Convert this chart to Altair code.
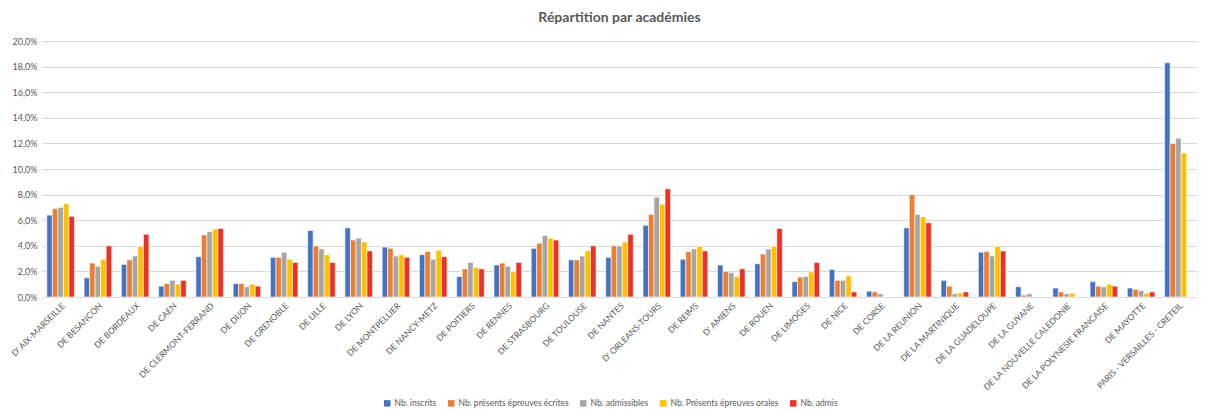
import altair as alt
import pandas as pd

categories = ["D' AIX-MARSEILLE", "DE BESANCON", "DE BORDEAUX", "DE CAEN", "DE CLERMONT-FERRAND",
              "DE DIJON", "DE GRENOBLE", "DE LILLE", "DE LYON", "DE MONTPELLIER", "DE NANCY-METZ",
              "DE POITIERS", "DE RENNES", "DE STRASBOURG", "DE TOULOUSE", "DE NANTES",
              "D' ORLEANS-TOURS", "DE REIMS", "D' AMIENS", "DE ROUEN", "DE LIMOGES", "DE NICE",
              "DE CORSE", "DE LA REUNION", "DE LA MARTINIQUE", "DE LA GUADELOUPE", "DE LA GUYANE",
              "DE LA NOUVELLE CALEDONIE", "DE LA POLYNESIE FRANCAISE", "DE MAYOTTE",
              "PARIS - VERSAILLES - CRETEIL"]

series_names = ["Nb. inscrits", "Nb. présents épreuves écrites", "Nb. admissibles",
                "Nb. Présents épreuves orales", "Nb. admis"]
series_colors = ["#4472C4", "#ED7D31", "#A5A5A5", "#FFC000", "#EE3124"]

# values in percent
inscrits = [6.4, 1.5, 2.55, 0.85, 3.15, 1.05, 3.1, 5.2, 5.4, 3.9, 3.3, 1.6, 2.5, 3.8, 2.9, 3.1,
            5.6, 2.95, 2.5, 2.6, 1.2, 2.15, 0.45, 5.4, 1.3, 3.5, 0.8, 0.7, 1.2, 0.7, 18.3]
ecrites = [6.9, 2.65, 2.9, 1.05, 4.85, 1.05, 3.1, 4.0, 4.45, 3.8, 3.55, 2.2, 2.65, 4.2, 2.9, 4.0,
           6.45, 3.55, 2.0, 3.35, 1.55, 1.3, 0.4, 8.0, 0.85, 3.55, 0.15, 0.4, 0.85, 0.6, 12.0]
admissibles = [7.0, 2.4, 3.2, 1.3, 5.1, 0.8, 3.5, 3.75, 4.6, 3.2, 2.95, 2.7, 2.4, 4.8, 3.2, 4.0,
               7.8, 3.75, 1.9, 3.75, 1.6, 1.3, 0.25, 6.45, 0.25, 3.2, 0.25, 0.25, 0.8, 0.5, 12.4]
orales = [7.3, 2.95, 3.95, 1.0, 5.3, 1.0, 2.95, 3.3, 4.3, 3.3, 3.65, 2.3, 1.95, 4.6, 3.6, 4.3,
          7.25, 3.95, 1.6, 3.95, 1.95, 1.65, None, 6.25, 0.3, 3.95, None, 0.3, 1.0, 0.3, 11.25]
admis = [6.3, 4.0, 4.9, 1.3, 5.35, 0.85, 2.7, 2.7, 3.6, 3.1, 3.15, 2.2, 2.7, 4.45, 4.0, 4.9,
         8.45, 3.6, 2.2, 5.35, 2.7, 0.4, None, 5.8, 0.4, 3.6, None, None, 0.85, 0.4, None]

series_values = [inscrits, ecrites, admissibles, orales, admis]

rows = []
for name, vals in zip(series_names, series_values):
    for cat, v in zip(categories, vals):
        if v is not None:
            rows.append({"academie": cat, "serie": name, "valeur": v / 100.0})
df = pd.DataFrame(rows)

grey = "#595959"
font = "Lato"

chart = alt.Chart(df).mark_bar(stroke="white", strokeWidth=0.6).encode(
    x=alt.X("academie:N", sort=categories, title=None,
            scale=alt.Scale(paddingInner=0.26, paddingOuter=0.13),
            axis=alt.Axis(labelAngle=-45, labelFontSize=8.5, labelColor=grey, labelFont=font,
                          ticks=False, domainColor="#D9D9D9", labelPadding=4, labelLimit=200)),
    xOffset=alt.XOffset("serie:N", sort=series_names, scale=alt.Scale(paddingInner=0, paddingOuter=0)),
    y=alt.Y("valeur:Q", title=None,
            scale=alt.Scale(domain=[0, 0.2], nice=False),
            axis=alt.Axis(values=[i / 50 for i in range(11)],
                          labelExpr="replace(format(datum.value, '.1%'), '.', ',')",
                          labelFontSize=9, labelColor=grey, labelFont=font, ticks=False,
                          domain=False, gridColor="#D9D9D9", labelPadding=5)),
    color=alt.Color("serie:N", sort=series_names,
                    scale=alt.Scale(domain=series_names, range=series_colors),
                    legend=alt.Legend(title=None, orient="none", direction="horizontal",
                                      legendX=341, legendY=358, symbolType="square",
                                      symbolSize=42, symbolStrokeWidth=0, labelFontSize=8.5,
                                      labelColor=grey, labelFont=font, columnPadding=10,
                                      padding=0, labelOffset=3)),
).properties(
    width=1155,
    height=256,
    title=alt.TitleParams("Répartition par académies", fontSize=14, font=font,
                          fontWeight="bold", color=grey, offset=12, anchor="middle"),
    padding={"left": 1, "right": 0, "top": 3, "bottom": 0},
).configure_view(stroke=None)

chart.save("out.html", embed_options={"renderer": "svg", "actions": False})
